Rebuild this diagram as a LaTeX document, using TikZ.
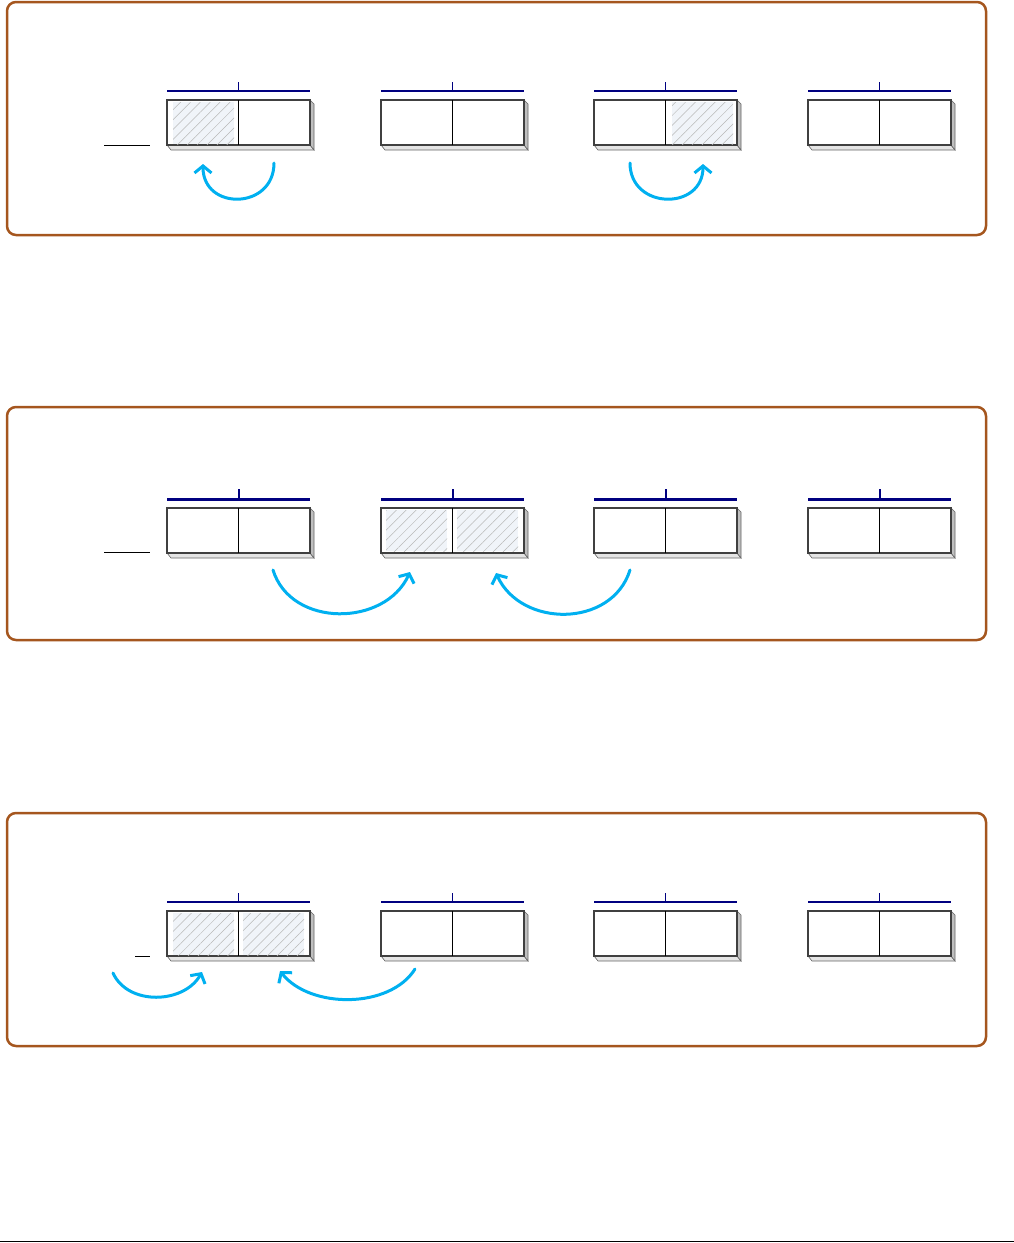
\documentclass[tikz,border=0pt]{standalone}
\usetikzlibrary{arrows.meta,patterns.meta}
\definecolor{framebrown}{HTML}{A5561E}
\definecolor{barblue}{HTML}{000080}
\definecolor{arrowcyan}{HTML}{00B0F0}
\definecolor{hatchbg}{HTML}{F0F4F9}
\tikzset{
  panel/.style={draw=framebrown,line width=2.5pt,rounded corners=9pt},
  frontbox/.style={draw=black!75,line width=1.2pt,fill=white},
  sideface/.style={draw=black!60,line width=0.6pt,fill=black!10},
  bar/.style={draw=barblue,line width=1.2pt},
  barthick/.style={draw=barblue,line width=3pt},
  hatch/.style={fill=hatchbg,postaction={pattern={Lines[angle=45,distance=7pt,line width=0.5pt]},pattern color=black!28}},
  move/.style={draw=arrowcyan,line width=3pt,line cap=round,-{Straight Barb[length=7pt,width=17pt,line width=3pt]}}
}
\begin{document}
\begin{tikzpicture}[x=1pt,y=-1pt]
\useasboundingbox (0,0) rectangle (1014,1243);
% frames
\draw[panel] (7,2) rectangle (986,235);
\draw[panel] (7,407) rectangle (986,640);
\draw[panel] (7,813) rectangle (986,1046);
\draw[line width=1pt] (0,1241.5) -- (1014,1241.5);
% blocks
\foreach \p in {0,408,811}{
  \foreach \x in {167,381,594,808}{
    \begin{scope}[shift={(\x,\p+100)}]
      \draw[sideface] (0,45) -- (143,45) -- (147,50) -- (4,50) -- cycle;
      \draw[sideface,fill=black!25] (143,0) -- (147,4) -- (147,50) -- (143,45) -- cycle;
      \draw[frontbox] (0,0) rectangle (143,45);
      \draw[bar] (0,-9) -- (143,-9);
      \draw[bar,line width=1.5pt] (71.5,-9) -- (71.5,-18);
    \end{scope}
  }
}
% heavier bars in the middle panel
\foreach \x in {167,381,594,808}{
  \draw[barthick] (\x,499) -- (\x+143,499);
  \draw[barthick,line width=2pt] (\x+71.5,499) -- (\x+71.5,489);
}
% hatched cells
\fill[hatch] (173,102) rectangle (234,144);
\fill[hatch] (672,102) rectangle (733,144);
\fill[hatch] (386,510) rectangle (447,551);
\fill[hatch] (457,510) rectangle (518,551);
\fill[hatch] (173,913) rectangle (234,955);
\fill[hatch] (243,913) rectangle (304,955);
% dividers
\foreach \p in {0,408,811}{
  \foreach \x in {238.5,452.5,665.5,879.5}{
    \draw[line width=1pt] (\x,\p+100) -- (\x,\p+145);
  }
}
% short lines
\draw[line width=1pt] (104,145) -- (150,145);
\draw[line width=1pt] (104,552) -- (150,552);
\draw[line width=1pt] (135,956) -- (150,956);
% arrow ends
\coordinate (s1) at (274,163); \coordinate (e1) at (203,164);
\coordinate (s2) at (630,163); \coordinate (e2) at (703,164);
\coordinate (s3) at (273,570); \coordinate (e3) at (410,572);
\coordinate (s4) at (630,570); \coordinate (e4) at (496,573);
\coordinate (s5) at (113,973); \coordinate (e5) at (202,972);
\coordinate (s6) at (415,969); \coordinate (e6) at (280,971);
\draw[move] (s1) .. controls +(0,47) and +(0,47) .. (e1);
\draw[move] (s2) .. controls +(0,47) and +(0,47) .. (e2);
\draw[move] (s3) .. controls +(18,58) and +(-25,55) .. (e3);
\draw[move] (s4) .. controls +(-18,58) and +(25,55) .. (e4);
\draw[move] (s5) .. controls +(15,33) and +(-18,32) .. (e5);
\draw[move] (s6) .. controls +(-25,40) and +(30,38) .. (e6);
\end{tikzpicture}
\end{document}
